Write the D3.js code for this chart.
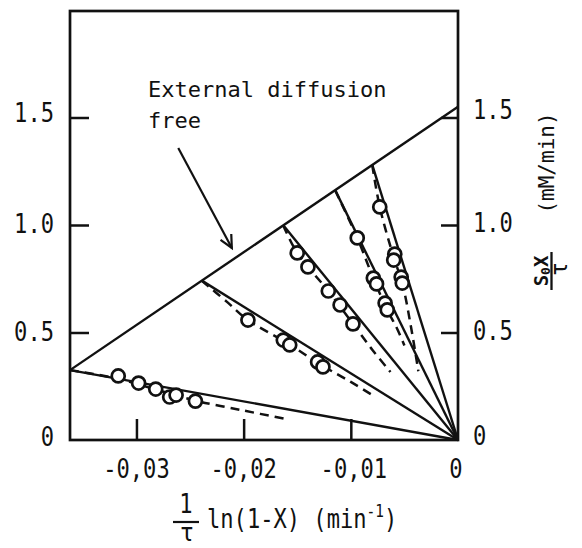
<!DOCTYPE html>
<html>
<head>
<meta charset="utf-8">
<script src="https://cdn.jsdelivr.net/npm/d3@7"></script>
<style>
  html, body { margin: 0; padding: 0; background: #fff; }
  svg { display: block; }
  text { font-family: "DejaVu Sans Mono", "Liberation Mono", monospace; fill: #111; }
</style>
</head>
<body>
<script>
// ---------------- data ----------------
const xDomain = [-0.0362, 0];
const yDomain = [0, 2.0];

const xTicks = [-0.03, -0.02, -0.01, 0];
const xTickLabels = ["-0,03", "-0,02", "-0,01", "0"];
const yTicks = [0, 0.5, 1.0, 1.5];
const yTickLabels = ["0", "0.5", "1.0", "1.5"];

// "External diffusion free" line
const extX = [-0.0362, 0];
const extY = [0.325, 1.55];

// x where each solid ray from the origin meets the external-diffusion-free line
const rayEndX = [-0.0362, -0.0239, -0.0163, -0.01146, -0.0080];

// measured points (open circles), five series
const s1X = [-0.0317, -0.0298, -0.0282, -0.0269, -0.0263, -0.0245];
const s1Y = [0.298, 0.265, 0.237, 0.200, 0.209, 0.181];
const s2X = [-0.0196, -0.0163, -0.0157, -0.0131, -0.0126];
const s2Y = [0.558, 0.465, 0.442, 0.363, 0.340];
const s3X = [-0.0150, -0.0140, -0.0121, -0.0110, -0.0098];
const s3Y = [0.870, 0.805, 0.693, 0.628, 0.540];
const s4X = [-0.0094, -0.0079, -0.0076, -0.0068, -0.0066];
const s4Y = [0.940, 0.753, 0.726, 0.637, 0.605];
const s5X = [-0.0073, -0.0059, -0.0060, -0.0053, -0.0052];
const s5Y = [1.084, 0.865, 0.837, 0.758, 0.730];

// dashed curves
const d1X = [-0.0362, -0.0317, -0.0282, -0.0245, -0.0200, -0.0161];
const d1Y = [0.325, 0.285, 0.235, 0.183, 0.137, 0.098];
const d2X = [-0.0239, -0.0215, -0.0196, -0.0160, -0.0128, -0.0100, -0.0077];
const d2Y = [0.741, 0.640, 0.558, 0.453, 0.350, 0.270, 0.200];
const d3X = [-0.0163, -0.0150, -0.0121, -0.0098, -0.0080, -0.0063];
const d3Y = [0.998, 0.870, 0.693, 0.540, 0.420, 0.316];
const d4X = [-0.01146, -0.0094, -0.0078, -0.0066, -0.0057, -0.0050];
const d4Y = [1.162, 0.940, 0.740, 0.605, 0.520, 0.440];
const d5X = [-0.0080, -0.0073, -0.0060, -0.0052, -0.0044, -0.0037];
const d5Y = [1.279, 1.084, 0.850, 0.730, 0.530, 0.320];

// annotation arrow (tail, head) in data units
const arrowX = [-0.0261, -0.0211];
const arrowY = [1.358, 0.893];

// ---------------- chart ----------------
const W = 582, H = 548;
const L = 70, R = 458, T = 11, B = 440;
const INK = "#111";

const svg = d3.select("body").append("svg").attr("width", W).attr("height", H);

const x = d3.scaleLinear().domain(xDomain).range([L, R]);
const y = d3.scaleLinear().domain(yDomain).range([B, 10]);

const zip = (xs, ys) => xs.map((v, i) => [v, ys[i]]);
const line = d3.line().x(d => x(d[0])).y(d => y(d[1]));
const curve = d3.line().x(d => x(d[0])).y(d => y(d[1])).curve(d3.curveCatmullRom.alpha(0.5));

// axes (inward ticks)
function styleAxis(g) {
  g.select(".domain").remove();
  g.selectAll(".tick line").attr("stroke", INK).attr("stroke-width", 2.5);
  g.selectAll(".tick text").remove();
}
svg.append("g").attr("transform", `translate(${L},0)`)
  .call(d3.axisLeft(y).tickValues(yTicks.filter(v => v > 0)).tickSize(-19)).call(styleAxis);
svg.append("g").attr("transform", `translate(${R},0)`)
  .call(d3.axisRight(y).tickValues(yTicks.filter(v => v > 0)).tickSize(-17)).call(styleAxis);
svg.append("g").attr("transform", `translate(0,${B})`)
  .call(d3.axisBottom(x).tickValues(xTicks.filter(v => v < 0)).tickSize(-21)).call(styleAxis);

// frame
svg.append("rect").attr("x", L).attr("y", T).attr("width", R - L).attr("height", B - T)
  .attr("fill", "none").attr("stroke", INK).attr("stroke-width", 2.7);

// tick labels
function narrowText(px, py, str, size, anchor, sx) {
  return svg.append("text")
    .attr("transform", `translate(${px},${py}) scale(${sx},1)`)
    .attr("text-anchor", anchor)
    .attr("font-size", size)
    .text(str);
}
yTicks.forEach((v, i) => {
  narrowText(54, y(v) + 8 - (v === 1.5 ? 4 : 0) - (v === 0 ? 2 : 0), yTickLabels[i], 26, "end", 0.85);
  narrowText(473, y(v) + 7 - (v === 1.5 ? 6 : 0) - (v === 0 ? 2 : 0), yTickLabels[i], 26, "start", 0.85);
});
xTicks.forEach((v, i) => {
  narrowText(x(v) + (v === -0.01 ? 3 : 0) - (v === 0 ? 2 : 0), 478, xTickLabels[i], 26, "middle", 0.85);
});

// external diffusion free line
const extSlope = (extY[1] - extY[0]) / (extX[1] - extX[0]);
const extAt = xv => extY[0] + (xv - extX[0]) * extSlope;
svg.append("path").attr("d", line(zip(extX, extY)))
  .attr("fill", "none").attr("stroke", INK).attr("stroke-width", 2.4);

// rays from origin
rayEndX.forEach(xv => {
  svg.append("path").attr("d", line([[0, 0], [xv, extAt(xv)]]))
    .attr("fill", "none").attr("stroke", INK).attr("stroke-width", 2.4);
});

// dashed curves
[[d1X, d1Y], [d2X, d2Y], [d3X, d3Y], [d4X, d4Y], [d5X, d5Y]].forEach(([xs, ys]) => {
  svg.append("path").attr("d", curve(zip(xs, ys)))
    .attr("fill", "none").attr("stroke", INK).attr("stroke-width", 2.5)
    .attr("stroke-dasharray", "9,6");
});

// points
[[s1X, s1Y], [s2X, s2Y], [s3X, s3Y], [s4X, s4Y], [s5X, s5Y]].forEach(([xs, ys]) => {
  svg.append("g").selectAll("circle").data(zip(xs, ys)).join("circle")
    .attr("cx", d => x(d[0])).attr("cy", d => y(d[1])).attr("r", 6.5)
    .attr("fill", "#fff").attr("stroke", INK).attr("stroke-width", 2.7);
});

// annotation
svg.append("text").attr("x", 148).attr("y", 97).attr("font-size", 22).text("External diffusion");
svg.append("text").attr("x", 148).attr("y", 128).attr("font-size", 22).text("free");
{
  const x0 = x(arrowX[0]), y0 = y(arrowY[0]), x1 = x(arrowX[1]), y1 = y(arrowY[1]);
  svg.append("line").attr("x1", x0).attr("y1", y0).attr("x2", x1).attr("y2", y1)
    .attr("stroke", INK).attr("stroke-width", 2.2);
  const ang = Math.atan2(y1 - y0, x1 - x0), len = 14, spread = 0.45;
  const head = [ang + Math.PI - spread, ang + Math.PI + spread].map(a => [x1 + len * Math.cos(a), y1 + len * Math.sin(a)]);
  svg.append("path").attr("d", `M${head[0][0]},${head[0][1]}L${x1},${y1}L${head[1][0]},${head[1][1]}`)
    .attr("fill", "none").attr("stroke", INK).attr("stroke-width", 2.2);
}

// bottom axis title: 1/τ ln(1-X) (min^-1)
narrowText(186, 513, "1", 26, "middle", 0.85);
svg.append("line").attr("x1", 173).attr("x2", 199).attr("y1", 522).attr("y2", 522)
  .attr("stroke", INK).attr("stroke-width", 2.2);
narrowText(187, 541, "τ", 25, "middle", 0.95);
{
  const t = svg.append("text").attr("transform", "translate(207,528) scale(0.85,1)").attr("font-size", 26);
  t.append("tspan").text("ln(1-X) (min");
  t.append("tspan").attr("font-size", 17).attr("dy", -11).text("-1");
  t.append("tspan").attr("font-size", 26).attr("dy", 11).text(")");
}

// right axis title: S0X/τ (mM/min)
svg.append("text").attr("transform", "translate(554,163) rotate(-90)")
  .attr("text-anchor", "middle").attr("font-size", 21).text("(mM/min)");
{
  const t = svg.append("text").attr("transform", "translate(548,271) rotate(-90)")
    .attr("text-anchor", "middle").attr("font-size", 19).attr("font-weight", "bold");
  t.append("tspan").text("S");
  t.append("tspan").attr("font-size", 13).attr("dy", 2).text("0");
  t.append("tspan").attr("dy", -2).text("X");
}
svg.append("line").attr("x1", 551.5).attr("x2", 551.5).attr("y1", 252).attr("y2", 290)
  .attr("stroke", INK).attr("stroke-width", 2.3);
svg.append("text").attr("transform", "translate(567,269) rotate(-90)")
  .attr("text-anchor", "middle").attr("font-size", 23).text("τ");
</script>
</body>
</html>
